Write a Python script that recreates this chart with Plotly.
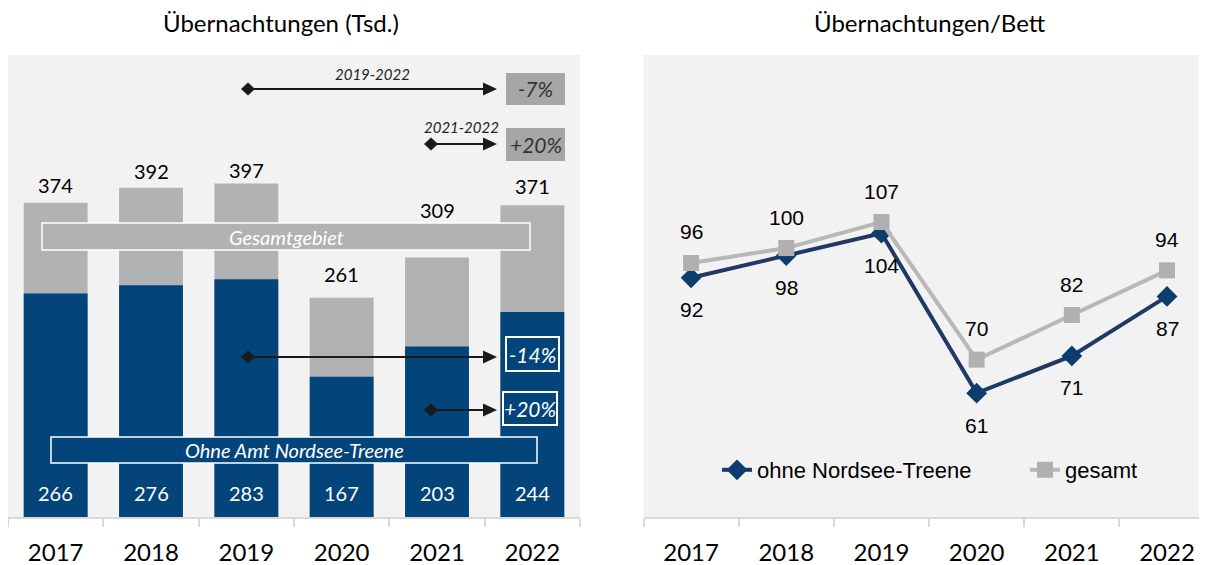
import plotly.graph_objects as go

# ---------------- data ----------------
years = ["2017", "2018", "2019", "2020", "2021", "2022"]
total_tsd = [374, 392, 397, 261, 309, 371]          # Übernachtungen Gesamtgebiet (Tsd.)
ohne_tsd = [266, 276, 283, 167, 203, 244]           # ohne Amt Nordsee-Treene (Tsd.)
bett_ohne = [92, 98, 104, 61, 71, 87]               # Übernachtungen/Bett ohne Nordsee-Treene
bett_gesamt = [96, 100, 107, 70, 82, 94]            # Übernachtungen/Bett gesamt

# ---------------- styling ----------------
OX, OY = 8, 8            # page body margin
W, H = 1207 - OX, 565 - OY
BLUE = "#03457a"
GREY = "#b1b2b4"
BG = "#f2f2f2"
LINE_DARK = "#1f3864"
MARK_DARK = "#0d3d6d"
LINE_GREY = "#b8b8b8"
MARK_GREY = "#b0b0b0"
CAL = "Lato, 'Open Sans', sans-serif"
ARI = "'Liberation Sans', Arial, sans-serif"


def px(x):
    return max(0.0, min(1.0, (x - OX) / W))


def py(y):
    return max(0.0, min(1.0, (H - (y - OY)) / H))


fig = go.Figure()

idx = list(range(len(years)))

# left: overlaid bars
fig.add_trace(go.Bar(x=years, y=total_tsd, width=0.67, marker=dict(color=GREY, line_width=0),
                     xaxis="x", yaxis="y", showlegend=False, hoverinfo="skip"))
fig.add_trace(go.Bar(x=years, y=ohne_tsd, width=0.67, marker=dict(color=BLUE, line_width=0),
                     xaxis="x", yaxis="y", showlegend=False, hoverinfo="skip"))

# right: lines
fig.add_trace(go.Scatter(x=years, y=bett_ohne, mode="lines+markers", name="ohne Nordsee-Treene",
                         line=dict(color=LINE_DARK, width=4),
                         marker=dict(symbol="diamond", size=16, color=MARK_DARK),
                         xaxis="x2", yaxis="y2"))
fig.add_trace(go.Scatter(x=years, y=bett_gesamt, mode="lines+markers", name="gesamt",
                         line=dict(color=LINE_GREY, width=4),
                         marker=dict(symbol="square", size=16, color=MARK_GREY),
                         xaxis="x2", yaxis="y2"))

ann = []
shapes = []


def ptext(text, x, y, family, size, color):
    ann.append(dict(text=text, x=px(x), y=py(y), xref="paper", yref="paper",
                    xanchor="center", yanchor="middle", showarrow=False,
                    font=dict(family=family, size=size, color=color)))


# titles
ptext("Übernachtungen (Tsd.)", 281, 23, CAL, 24, "#000")
ptext("Übernachtungen/Bett", 930, 23, CAL, 24, "#000")

# bar total labels
total_shift = [18, 17, 14, 24, 47, 19]
for i, v in enumerate(total_tsd):
    ann.append(dict(text=str(v), x=idx[i], y=v, xref="x", yref="y", xanchor="center",
                    yanchor="middle", yshift=total_shift[i], showarrow=False,
                    font=dict(family=CAL, size=20, color="#000")))
# inner labels
for i, v in enumerate(ohne_tsd):
    ann.append(dict(text=str(v), x=idx[i], y=0, xref="x", yref="y", xanchor="center",
                    yanchor="middle", yshift=24, showarrow=False,
                    font=dict(family=CAL, size=20, color="#fff")))

# line labels
for i, v in enumerate(bett_gesamt):
    ann.append(dict(text=str(v), x=idx[i], y=v, xref="x2", yref="y2", xanchor="center",
                    yanchor="middle", yshift=31, showarrow=False,
                    font=dict(family=ARI, size=21, color="#000")))
for i, v in enumerate(bett_ohne):
    ann.append(dict(text=str(v), x=idx[i], y=v, xref="x2", yref="y2", xanchor="center",
                    yanchor="middle", yshift=-32, showarrow=False,
                    font=dict(family=ARI, size=21, color="#000")))


def box(x0, y0, x1, y1, fill, text, tcolor, size, border="#ffffff", bw=1.5):
    shapes.append(dict(type="rect", xref="paper", yref="paper", x0=px(x0), x1=px(x1),
                       y0=py(y1), y1=py(y0), fillcolor=fill,
                       line=dict(color=border, width=bw), layer="above"))
    ptext("<i>%s</i>" % text, (x0 + x1) / 2, (y0 + y1) / 2, CAL, size, tcolor)


def arrow(x0, x1, y):
    shapes.append(dict(type="line", xref="paper", yref="paper", x0=px(x0), x1=px(x1 - 10),
                       y0=py(y), y1=py(y), line=dict(color="#1a1a1a", width=2), layer="above"))
    d = 7
    shapes.append(dict(type="path", xref="paper", yref="paper", layer="above",
                       path="M %f %f L %f %f L %f %f L %f %f Z" % (
                           px(x0 - d), py(y), px(x0), py(y - 6.5), px(x0 + d), py(y),
                           px(x0), py(y + 6.5)),
                       fillcolor="#1a1a1a", line=dict(color="#1a1a1a", width=0)))
    shapes.append(dict(type="path", xref="paper", yref="paper", layer="above",
                       path="M %f %f L %f %f L %f %f Z" % (
                           px(x1), py(y), px(x1 - 14), py(y - 6.5), px(x1 - 14), py(y + 6.5)),
                       fillcolor="#1a1a1a", line=dict(color="#1a1a1a", width=0)))


box(42, 223, 530, 250, GREY, "Gesamtgebiet", "#ffffff", 20)
box(51, 437, 537, 463, BLUE, "Ohne Amt Nordsee-Treene", "#ffffff", 20)

arrow(248, 497, 89)
ptext("<i>2019-2022</i>", 372, 74, CAL, 15, "#222")
box(506, 73, 565, 105, "#a6a6a6", "-7%", "#333333", 21, border="#a6a6a6", bw=0)

arrow(431, 497, 144)
ptext("<i>2021-2022</i>", 461, 127, CAL, 15, "#222")
box(506, 128, 565, 161, "#a6a6a6", "+20%", "#333333", 21, border="#a6a6a6", bw=0)

arrow(248, 497, 357)
box(506, 337, 559, 371, BLUE, "-14%", "#ffffff", 21, bw=2)
arrow(431, 497, 410)
box(503, 392, 557, 425, BLUE, "+20%", "#ffffff", 21, bw=2)

ydom = [py(517), py(55)]
xaxis_common = dict(type="category", tickson="boundaries", ticks="outside", ticklen=8,
                    tickcolor="#d9d9d9", tickwidth=1.5, showline=True, linecolor="#d9d9d9",
                    linewidth=1.5, showgrid=False, zeroline=False, ticklabelstandoff=13,
                    tickfont=dict(family=CAL, size=24, color="#000"), fixedrange=True)

fig.update_layout(
    width=W, height=H,
    margin=dict(l=0, r=0, t=0, b=0, pad=0, autoexpand=False),
    paper_bgcolor="#ffffff", plot_bgcolor=BG,
    barmode="overlay",
    xaxis=dict(domain=[px(8), px(580)], range=[-0.5, 5.5], **xaxis_common),
    yaxis=dict(domain=ydom, range=[0, 550], visible=False, fixedrange=True),
    xaxis2=dict(domain=[px(643.5), 1.0], range=[-0.5, 5.42], anchor="y2", **xaxis_common),
    yaxis2=dict(domain=ydom, range=[27.7, 151.9], anchor="x2", visible=False, fixedrange=True),
    showlegend=True,
    legend=dict(orientation="h", x=px(717), y=py(470), xanchor="left", yanchor="middle",
                bgcolor="rgba(0,0,0,0)", font=dict(family=ARI, size=22, color="#000"),
                entrywidth=263, entrywidthmode="pixels", tracegroupgap=0),
    annotations=ann, shapes=shapes,
)

fig.write_html("out.html")
